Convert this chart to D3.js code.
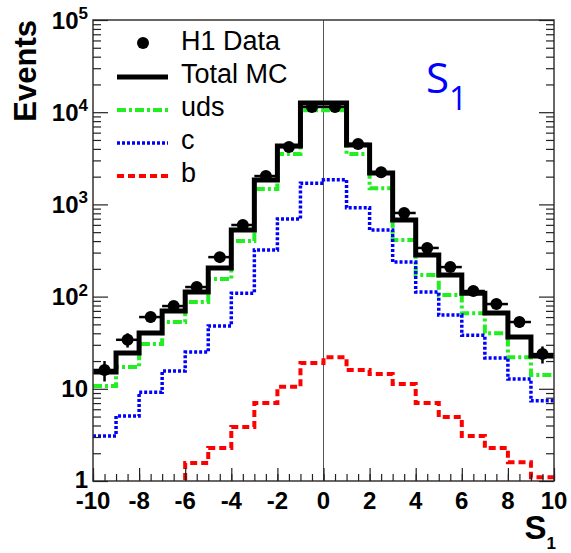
<!DOCTYPE html>
<html>
<head>
<meta charset="utf-8">
<script src="https://cdn.jsdelivr.net/npm/d3@7"></script>
<style>
  body { margin: 0; background: #fff; }
  svg { display: block; }
</style>
</head>
<body>
<div id="wrapper"></div>
<script>
// bin edges run from -10 to 10 in steps of 1
const binEdges = [-10,-9,-8,-7,-6,-5,-4,-3,-2,-1,0,1,2,3,4,5,6,7,8,9,10];

// H1 data: counts per bin and their errors
const dataVals = [16, 34, 60, 79, 127, 268, 598, 2030, 4200, 11400, 11400, 4520, 2230, 807, 337, 209, 115, 83, 53, 23.8];
const dataErrs = [4, 6, 8, 9, 11, 16, 24, 45, 65, 107, 107, 67, 47, 28, 18, 14, 11, 9, 7, 5];

// Monte Carlo, total and by flavour
const totalMC = [15.2, 24.4, 40.3, 69.8, 112, 204, 527, 1840, 4300, 12600, 12600, 4400, 2190, 676, 283, 171, 109, 66.4, 36.5, 22.7];
const udsVals = [10.7, 17.2, 30.6, 53, 87.6, 155, 400, 1470, 3520, 10500, 10500, 3520, 1500, 411, 171, 104, 66, 40, 22, 14.1];
const cVals   = [3.08, 5.07, 9.2, 15.6, 25, 48, 109, 320, 695, 1700, 1850, 917, 527, 237, 112, 63, 38, 21.6, 12.8, 7.4];
// the first four b bins sit below the plotted range
const bVals   = [0.5, 0.5, 0.5, 0.5, 1.57, 2.28, 3.85, 7.0, 10.5, 19, 22, 16, 14.5, 11.3, 7.0, 4.95, 3.08, 2.28, 1.6, 1.1];

const yTickVals = [1, 10, 100, 1000, 10000, 100000];
const xTickVals = [-10, -8, -6, -4, -2, 0, 2, 4, 6, 8, 10];

const dimension = {
    width: 571,
    height: 553,
    margin: { top: 20, left: 93, bottom: 72, right: 17 }
};
dimension.boundedWidth = dimension.width - dimension.margin.left - dimension.margin.right;
dimension.boundedHeight = dimension.height - dimension.margin.top - dimension.margin.bottom;

const svg = d3.select("#wrapper").append("svg")
    .attr("width", dimension.width)
    .attr("height", dimension.height);

const bounds = svg.append("g")
    .attr("transform", `translate(${dimension.margin.left},${dimension.margin.top})`);

const xScaler = d3.scaleLinear()
    .domain([-10, 10])
    .range([0, dimension.boundedWidth]);

const yScaler = d3.scaleLog()
    .domain([1, 1e5])
    .range([dimension.boundedHeight, 0]);

svg.append("defs").append("clipPath").attr("id", "plotClip")
    .append("rect")
    .attr("width", dimension.boundedWidth)
    .attr("height", dimension.boundedHeight);

// line at S1 = 0
bounds.append("line")
    .attr("x1", xScaler(0)).attr("x2", xScaler(0))
    .attr("y1", 0).attr("y2", dimension.boundedHeight)
    .attr("stroke", "#555").attr("stroke-width", 1);

// step histogram: one point per left edge plus the closing edge
const stepLine = d3.line()
    .x(d => xScaler(d[0]))
    .y(d => yScaler(d[1]))
    .curve(d3.curveStepAfter);
const toSteps = vals => binEdges.map((e, i) => [e, vals[Math.min(i, vals.length - 1)]]);

const histGroup = bounds.append("g").attr("clip-path", "url(#plotClip)");

const styles = {
    uds:   { color: "#22ee22", width: 4,   dash: "9,3,3,3" },
    c:     { color: "#0000ff", width: 3.5, dash: "3,2" },
    b:     { color: "#ff0000", width: 4,   dash: "7,4" },
    total: { color: "#000",    width: 5,   dash: null }
};

[[udsVals, styles.uds], [cVals, styles.c], [bVals, styles.b], [totalMC, styles.total]].forEach(([vals, s]) => {
    histGroup.append("path")
        .datum(toSteps(vals))
        .attr("d", stepLine)
        .attr("fill", "none")
        .attr("stroke", s.color)
        .attr("stroke-width", s.width)
        .attr("stroke-dasharray", s.dash);
});

// data points with error bars
const centers = dataVals.map((v, i) => (binEdges[i] + binEdges[i + 1]) / 2);
const pts = bounds.append("g").selectAll("g")
    .data(dataVals.map((v, i) => ({ x: centers[i], v: v, e: dataErrs[i] })))
    .enter().append("g");

pts.append("line")
    .attr("x1", d => xScaler(d.x - 0.5)).attr("x2", d => xScaler(d.x + 0.5))
    .attr("y1", d => yScaler(d.v)).attr("y2", d => yScaler(d.v))
    .attr("stroke", "#000").attr("stroke-width", 2.5);
pts.append("line")
    .attr("x1", d => xScaler(d.x)).attr("x2", d => xScaler(d.x))
    .attr("y1", d => yScaler(d.v + d.e)).attr("y2", d => yScaler(d.v - d.e))
    .attr("stroke", "#000").attr("stroke-width", 2.5);
pts.append("circle")
    .attr("cx", d => xScaler(d.x))
    .attr("cy", d => yScaler(d.v))
    .attr("r", 6)
    .attr("fill", "#000");

// frame
bounds.append("rect")
    .attr("width", dimension.boundedWidth)
    .attr("height", dimension.boundedHeight)
    .attr("fill", "none")
    .attr("stroke", "#3a3333")
    .attr("stroke-width", 1.5);

// y ticks, inside on both sides
const yMinor = [];
for (let dec = 1; dec < 1e5; dec *= 10) {
    for (let k = 2; k <= 9; k++) yMinor.push(k * dec);
}
const yAxisLeft = bounds.append("g")
    .call(d3.axisLeft(yScaler).tickValues(yMinor).tickSize(-8).tickFormat(""));
yAxisLeft.append("g")
    .call(d3.axisLeft(yScaler).tickValues(yTickVals).tickSize(-15).tickFormat(""));
const yAxisRight = bounds.append("g")
    .attr("transform", `translate(${dimension.boundedWidth},0)`)
    .call(d3.axisRight(yScaler).tickValues(yMinor).tickSize(-8).tickFormat(""));
yAxisRight.append("g")
    .call(d3.axisRight(yScaler).tickValues(yTickVals).tickSize(-15).tickFormat(""));

// x ticks, inside pointing up
const xMinor = d3.range(-10, 10.01, 0.5);
const xAxis = bounds.append("g")
    .attr("transform", `translate(0,${dimension.boundedHeight})`)
    .call(d3.axisBottom(xScaler).tickValues(xMinor).tickSize(-7).tickFormat(""));
xAxis.append("g")
    .call(d3.axisBottom(xScaler).tickValues(xTickVals).tickSize(-13).tickFormat(""));

bounds.selectAll(".domain").attr("stroke", "none");
bounds.selectAll(".tick line").attr("stroke", "#222").attr("stroke-width", 1.2);

// tick labels
const labelFont = "'Liberation Sans', Arial, Helvetica, sans-serif";
bounds.append("g").selectAll("text")
    .data(xTickVals)
    .enter().append("text")
    .attr("x", d => xScaler(d))
    .attr("y", dimension.boundedHeight + 28)
    .attr("text-anchor", "middle")
    .attr("font-family", labelFont)
    .attr("font-weight", "bold")
    .attr("font-size", "24px")
    .text(d => d);

const yLabels = bounds.append("g").selectAll("text")
    .data(yTickVals)
    .enter().append("text")
    .attr("x", -5)
    .attr("y", d => yScaler(d) + (d === 1 ? 6.5 : 8.5))
    .attr("text-anchor", "end")
    .attr("font-family", labelFont)
    .attr("font-weight", "bold")
    .attr("font-size", "24px");
yLabels.append("tspan").text(d => d < 100 ? d : "10");
yLabels.filter(d => d >= 100).append("tspan")
    .attr("dy", -9.5)
    .attr("font-size", "17px")
    .text(d => Math.round(Math.log10(d)));

// axis titles
svg.append("text")
    .attr("transform", "translate(36,20) rotate(-90)")
    .attr("text-anchor", "end")
    .attr("font-family", labelFont)
    .attr("font-weight", "bold")
    .attr("font-size", "31px")
    .text("Events");

const xTitle = svg.append("text")
    .attr("x", 556)
    .attr("y", 539)
    .attr("text-anchor", "end")
    .attr("font-family", labelFont)
    .attr("font-weight", "bold")
    .attr("font-size", "33px");
xTitle.append("tspan").text("S");
xTitle.append("tspan").attr("dy", 10).attr("font-size", "17px").text("1");

// variable name in the plot
const varLabel = svg.append("text")
    .attr("x", 426)
    .attr("y", 93)
    .attr("font-family", "'Open Sans', sans-serif")
    .attr("font-size", "42px")
    .attr("fill", "#0000ff");
varLabel.append("tspan").text("S");
varLabel.append("tspan").attr("dy", 17).attr("font-size", "32px").text("1");

// legend
const legendItems = [
    { label: "H1 Data",  y: 50,  type: "dot" },
    { label: "Total MC", y: 83,  type: "line", s: styles.total },
    { label: "uds",      y: 116, type: "line", s: styles.uds },
    { label: "c",        y: 149, type: "line", s: styles.c },
    { label: "b",        y: 182, type: "line", s: styles.b }
];
const legend = svg.append("g");
legendItems.forEach(item => {
    if (item.type === "dot") {
        legend.append("circle")
            .attr("cx", 143).attr("cy", item.y - 7).attr("r", 6).attr("fill", "#000");
    } else {
        legend.append("line")
            .attr("x1", 117).attr("x2", 168)
            .attr("y1", item.y - 6).attr("y2", item.y - 6)
            .attr("stroke", item.s.color)
            .attr("stroke-width", item.s.width)
            .attr("stroke-dasharray", item.s.dash);
    }
    legend.append("text")
        .attr("x", 181)
        .attr("y", item.y)
        .attr("font-family", labelFont)
        .attr("font-size", "27px")
        .text(item.label);
});
</script>
</body>
</html>
